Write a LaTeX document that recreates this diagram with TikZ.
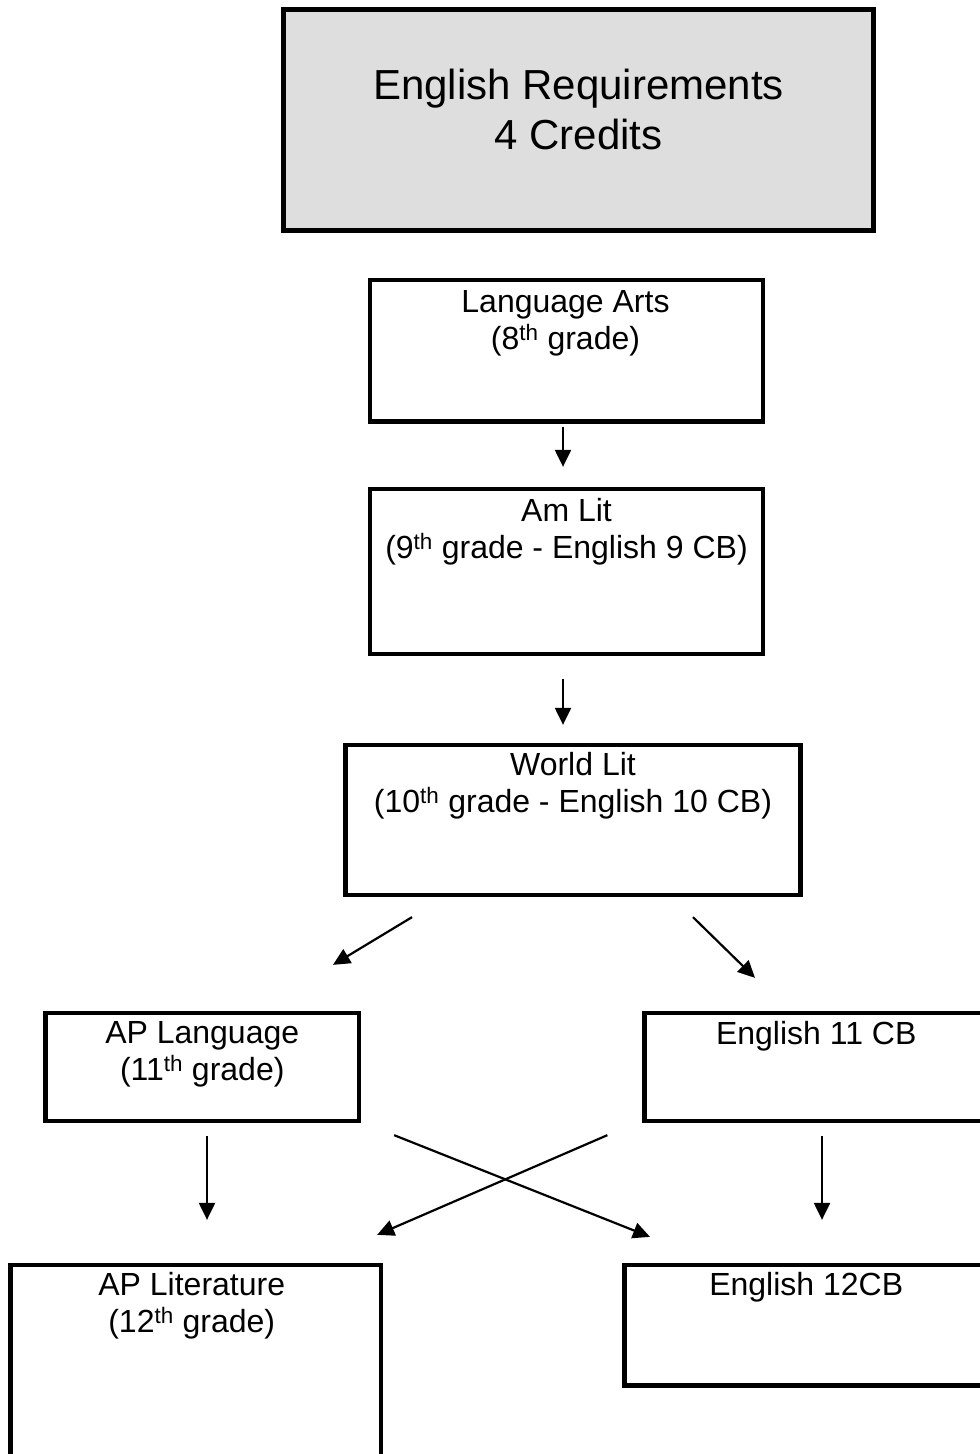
\documentclass[tikz,border=0pt]{standalone}
\usepackage{fontspec}
\setmainfont{Liberation Sans}
\usetikzlibrary{arrows.meta,calc}
\definecolor{titlegray}{RGB}{222,222,222}
\tikzset{
  boxshape/.style={draw=black, line width=4.3pt, rectangle, inner sep=0pt},
  boxtext/.style={anchor=north, align=center, inner sep=0pt, font=\fontsize{32}{37}\selectfont},
  titletext/.style={anchor=north, align=center, inner sep=0pt, font=\fontsize{42}{50}\selectfont},
  arr/.style={line width=2.2pt, -{Triangle[length=17pt,width=16pt]}}
}
\begin{document}
\begin{tikzpicture}[x=1pt,y=-1pt]
\clip (0,0) rectangle (980,1454);
\fill[white] (0,0) rectangle (980,1454);
% boxes
\node[boxshape, line width=5pt, fill=titlegray, minimum width=590pt, minimum height=221pt] (title) at (578.5,120) {};
\node[boxshape, minimum width=393pt, minimum height=141.5pt] (la) at (566.5,350.75) {};
\node[boxshape, minimum width=393pt, minimum height=165pt] (am) at (566.5,571.5) {};
\node[boxshape, minimum width=455pt, minimum height=150pt] (wl) at (573,820) {};
\node[boxshape, minimum width=313.5pt, minimum height=108pt] (apl) at (202.25,1067) {};
\node[boxshape, minimum width=343.5pt, minimum height=108pt] (e11) at (816.25,1067) {};
\node[boxshape, minimum width=370.5pt, minimum height=205pt] (aplit) at (195.75,1367.5) {};
\node[boxshape, minimum width=363.5pt, minimum height=120.5pt] (e12) at (806.25,1325.25) {};
% texts
\node[titletext] (titleT) at ($(title.north)+(0,62)$) {English Requirements\\4 Credits};
\node[boxtext] (laT) at ($(la.north)+(-1,12.3)$) {Language Arts\\(8\textsuperscript{th} grade)};
\node[boxtext] (amT) at ($(am.north)+(0,11.3)$) {Am Lit\\(9\textsuperscript{th} grade - English 9 CB)};
\node[boxtext] (wlT) at ($(wl.north)+(0,9.3)$) {World Lit\\(10\textsuperscript{th} grade - English 10 CB)};
\node[boxtext] (aplT) at ($(apl.north)+(0,10.3)$) {AP Language\\(11\textsuperscript{th} grade)};
\node[boxtext] (e11T) at ($(e11.north)+(0,10.3)$) {English 11 CB};
\node[boxtext] (aplitT) at ($(aplit.north)+(-4,9.3)$) {AP Literature\\(12\textsuperscript{th} grade)};
\node[boxtext] (e12T) at ($(e12.north)+(0,9.3)$) {English 12CB};
% arrows
\draw[arr] ($(la.south)+(-3.5,3.5)$) -- ($(am.north)+(-3.5,-20)$);
\draw[arr] ($(am.south)+(-3.5,23)$) -- ($(wl.north)+(-10,-18)$);
\draw[arr] ($(wl.south)+(-161,20)$) -- ($(apl.north)+(130.75,-46)$);
\draw[arr] ($(wl.south)+(120,20)$) -- ($(e11.north)+(-61.25,-33)$);
\draw[arr] ($(apl.south)+(4.75,13)$) -- ($(aplit.north)+(11.25,-43)$);
\draw[arr] ($(apl.south east)+(33,12)$) -- ($(e12.north west)+(27.65,-26)$);
\draw[arr] ($(e11.south west)+(-35,12)$) -- ($(aplit.north east)+(-6,-28)$);
\draw[arr] ($(e11.south)+(5.75,13)$) -- ($(e12.north)+(15.75,-43)$);
\end{tikzpicture}
\end{document}
